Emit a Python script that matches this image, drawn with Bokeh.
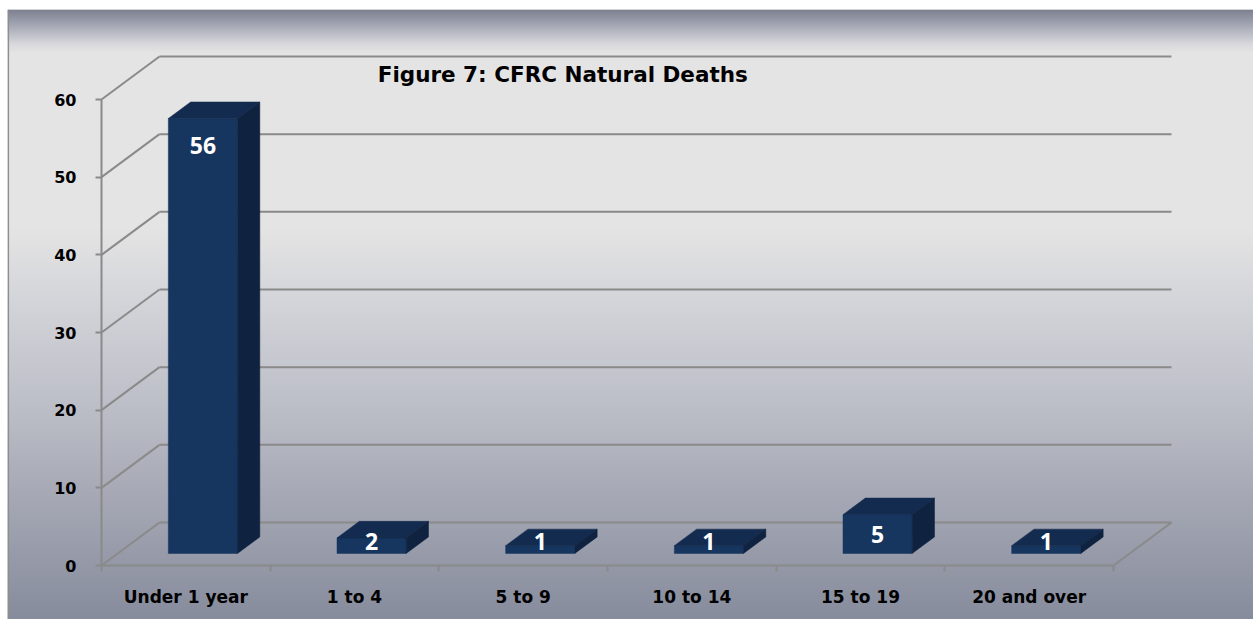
import numpy as np
from bokeh.plotting import figure
from bokeh.models import Range1d, FixedTicker, Label, Span
from bokeh.core.properties import value
from bokeh.embed import file_html
from bokeh.resources import INLINE

# ---- data ----
categories = ["Under 1 year", "1 to 4", "5 to 9", "10 to 14", "15 to 19", "20 and over"]
deaths = [56, 2, 1, 1, 5, 1]
y_ticks = [0, 10, 20, 30, 40, 50, 60]
title_text = "Figure 7:  CFRC Natural Deaths"

FONT = "DejaVu Sans"
LABEL_FONT = "Open Sans"

# ---- layout (pixels, page == canvas) ----
W, H = 1253, 619
FL, FT = 7, 9                  # frame left / top inside canvas
AX_X0, AX_X1 = 101, 1113       # page x of front axis ends
AX_Y0, AX_Y60 = 565, 99        # page y of value 0 and 60 (front)
cw = (AX_X1 - AX_X0) / len(categories)
ppu = (AX_Y0 - AX_Y60) / 60.0

def dx(px):
    return (px - AX_X0) / cw

def dy(py):
    return (AX_Y0 - py) / ppu

x_start, x_end = dx(FL), dx(W)
y_start, y_end = dy(H), dy(FT)

DX = 58 / cw      # depth offset in data units
DY = 43 / ppu
F1, F2 = 0.28, 0.665   # bar front/back depth fractions

p = figure(width=W, height=H, output_backend="svg", toolbar_location=None,
           x_range=Range1d(x_start, x_end), y_range=Range1d(y_start, y_end),
           min_border=0, min_border_left=FL, min_border_right=0,
           min_border_top=FT, min_border_bottom=0)
p.xgrid.visible = False
p.ygrid.visible = False
p.outline_line_color = None
p.background_fill_color = "#e4e4e4"
p.border_fill_color = "white"

# ---- background gradient ----
fh = H - FT
stops_y = [9, 20, 32, 44, 52, 230, 300, 400, 500, 619]
stops_c = [(125, 128, 142), (152, 156, 170), (185, 187, 196), (218, 218, 222),
           (228, 228, 228), (228, 228, 228), (212, 213, 218), (190, 192, 201),
           (165, 168, 180), (135, 140, 157)]
rows = np.arange(fh)[::-1] + FT + 0.5   # row 0 = bottom
img = np.zeros((fh, 1), dtype=np.uint32)
view = img.view(dtype=np.uint8).reshape((fh, 1, 4))
for k in range(3):
    view[:, 0, k] = np.interp(rows, stops_y, [c[k] for c in stops_c]).astype(np.uint8)
view[:, 0, 3] = 255
p.image_rgba(image=[img], x=x_start, y=y_start, dw=x_end - x_start, dh=y_end - y_start)

# left border line of the chart area
p.add_layout(Span(location=dx(FL + 0.8), dimension="height",
                  line_color="#8e8e8e", line_width=1.6))

# ---- 3D walls / gridlines ----
n = len(categories)
gc = "#8a8a8a"
p.segment(x0=[0] * len(y_ticks), y0=y_ticks, x1=[DX] * len(y_ticks),
          y1=[v + DY for v in y_ticks], line_color=gc, line_width=2)
p.segment(x0=[DX] * len(y_ticks), y0=[v + DY for v in y_ticks],
          x1=[n + DX] * len(y_ticks), y1=[v + DY for v in y_ticks],
          line_color=gc, line_width=2)
p.segment(x0=[n], y0=[0], x1=[n + DX], y1=[DY], line_color=gc, line_width=2)

# ---- bars ----
BL, BR = 0.30, 0.71
y0f = F1 * DY
lefts = [i + BL + F1 * DX for i in range(n)]
rights = [i + BR + F1 * DX for i in range(n)]
tops = [v + y0f for v in deaths]
ddx = (F2 - F1) * DX
ddy = (F2 - F1) * DY

p.quad(left=lefts, right=rights, bottom=[y0f] * n, top=tops,
       fill_color="#17365f", line_color="#17365f", line_width=0.5)
top_xs = [[l, r, r + ddx, l + ddx] for l, r in zip(lefts, rights)]
top_ys = [[t, t, t + ddy, t + ddy] for t in tops]
p.patches(xs=top_xs, ys=top_ys, fill_color="#132b4e", line_color="#132b4e", line_width=0.5)
side_xs = [[r, r + ddx, r + ddx, r] for r in rights]
side_ys = [[y0f, y0f + ddy, t + ddy, t] for t in tops]
p.patches(xs=side_xs, ys=side_ys, fill_color="#0f2240", line_color="#0f2240", line_width=0.5)

# ---- bar labels ----
lab_x = [(l + r) / 2 for l, r in zip(lefts, rights)]
lab_y = [y0f + max(max(v - 3.5, v / 2.0), 1.5) for v in deaths]
p.text(x=lab_x, y=lab_y, text=[str(v) for v in deaths], text_align="center",
       text_baseline="middle", text_color="white", text_font=value(LABEL_FONT),
       text_font_style="bold", text_font_size="23px")

# ---- axes ----
ya = p.yaxis[0]
ya.fixed_location = 0
ya.bounds = (0, 60)
ya.ticker = FixedTicker(ticks=y_ticks)
ya.axis_line_color = gc
ya.axis_line_width = 2
ya.major_tick_line_color = gc
ya.major_tick_line_width = 2
ya.major_tick_in = 0
ya.major_tick_out = 6
ya.minor_tick_line_color = None
ya.major_label_standoff = 19
ya.major_label_text_font = FONT
ya.major_label_text_font_style = "bold"
ya.major_label_text_font_size = "16px"
ya.major_label_text_color = "black"

xa = p.xaxis[0]
xa.fixed_location = 0
xa.bounds = (0, n)
centers = [i + 0.5 for i in range(n)]
xa.ticker = FixedTicker(ticks=centers, minor_ticks=list(range(n + 1)))
xa.major_label_overrides = {c: name for c, name in zip(centers, categories)}
xa.axis_line_color = gc
xa.axis_line_width = 2
xa.major_tick_line_color = None
xa.major_tick_in = 0
xa.major_tick_out = 0
xa.minor_tick_line_color = gc
xa.minor_tick_line_width = 2
xa.minor_tick_in = 0
xa.minor_tick_out = 6
xa.major_label_standoff = 15
xa.major_label_text_font = FONT
xa.major_label_text_font_style = "bold"
xa.major_label_text_font_size = "17px"
xa.major_label_text_color = "black"

# ---- title ----
p.add_layout(Label(x=dx(566), y=dy(74), text=title_text, text_align="center",
                   text_baseline="middle", text_font=FONT,
                   text_font_style="bold", text_font_size="21.5px", text_color="black"))

open("out.html", "w").write(file_html(p, INLINE))
